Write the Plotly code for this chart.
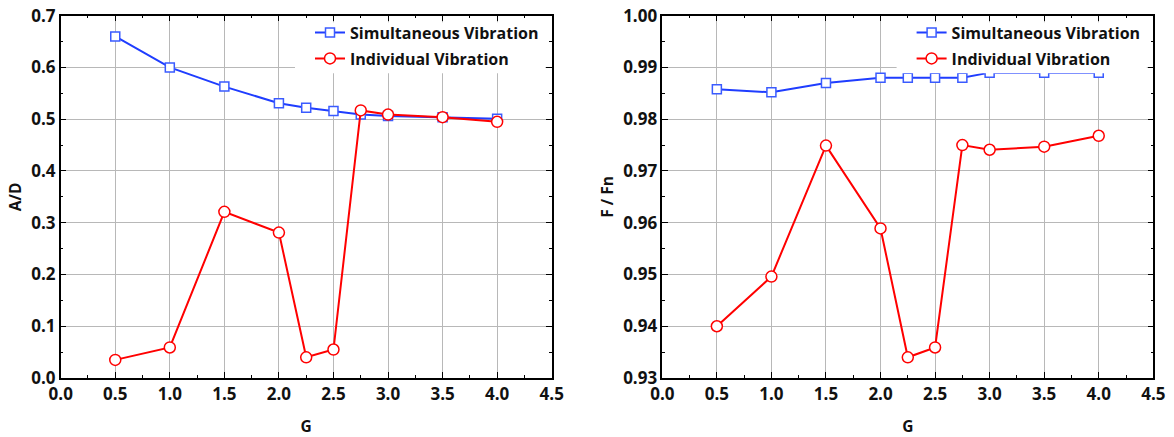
import plotly.graph_objects as go

G = [0.5, 1.0, 1.5, 2.0, 2.25, 2.5, 2.75, 3.0, 3.5, 4.0]
ad_simultaneous = [0.660, 0.600, 0.563, 0.531, 0.522, 0.516, 0.509, 0.506, 0.504, 0.501]
ad_individual = [0.035, 0.059, 0.321, 0.281, 0.040, 0.055, 0.517, 0.509, 0.504, 0.495]
ffn_simultaneous = [0.9858, 0.9852, 0.9870, 0.9880, 0.9880, 0.9880, 0.9880, 0.9890, 0.9890, 0.9890]
ffn_individual = [0.9400, 0.9496, 0.9749, 0.9589, 0.9340, 0.9359, 0.9750, 0.9741, 0.9747, 0.9768]
names = ["Simultaneous Vibration", "Individual Vibration"]

BLUE = "#1F3DFF"
BLUE_M = "#3A5BFF"
RED = "#FF0000"
FONT = "Open Sans"
TXT = "#111111"

fig = go.Figure()

def add_pair(xa, ya, leg, s_vals, i_vals):
    fig.add_trace(go.Scatter(
        x=G, y=s_vals, name=names[0], mode="lines+markers", xaxis=xa, yaxis=ya,
        legend=leg, legendgroup="s" + leg,
        line=dict(color=BLUE, width=2),
        marker=dict(symbol="square", size=9, color="white", line=dict(color=BLUE_M, width=1.5)),
        cliponaxis=False))
    fig.add_trace(go.Scatter(
        x=G, y=i_vals, name=names[1], mode="lines+markers", xaxis=xa, yaxis=ya,
        legend=leg, legendgroup="i" + leg,
        line=dict(color=RED, width=2),
        marker=dict(symbol="circle", size=11, color="white", line=dict(color=RED, width=1.5)),
        cliponaxis=False))

add_pair("x", "y", "legend", ad_simultaneous, ad_individual)
add_pair("x2", "y2", "legend2", ffn_simultaneous, ffn_individual)

tickfont = dict(family=FONT, size=17, color=TXT, weight="bold")
titlefont = dict(family=FONT, size=15.5, color=TXT, weight="bold")

def xaxis_cfg(domain, anchor):
    return dict(
        domain=domain, anchor=anchor, range=[0, 4.5], dtick=0.5, tick0=0, tickformat=".1f",
        showline=True, linecolor="#000000", linewidth=1.5, mirror="ticks",
        ticks="inside", ticklen=6, tickwidth=1.2, tickcolor="#000000",
        minor=dict(ticks="inside", ticklen=3, dtick=0.25, tickcolor="#000000", showgrid=False),
        showgrid=True, gridcolor="#B8B8B8", gridwidth=1, zeroline=False,
        tickfont=tickfont, title=dict(text="G", font=titlefont, standoff=18),
        automargin=False)

def yaxis_cfg(domain, anchor, rng, dtick, fmt, minor, title):
    return dict(
        domain=domain, anchor=anchor, range=rng, dtick=dtick, tick0=rng[0], tickformat=fmt,
        showline=True, linecolor="#000000", linewidth=1.5, mirror="ticks",
        ticks="inside", ticklen=6, tickwidth=1.2, tickcolor="#000000",
        minor=dict(ticks="inside", ticklen=3, dtick=minor, tickcolor="#000000", showgrid=False),
        showgrid=True, gridcolor="#B8B8B8", gridwidth=1, zeroline=False,
        tickfont=tickfont, title=dict(text=title, font=titlefont, standoff=6),
        automargin=False)

W, H = 1174, 437
top_px, bot_px = 15.7, 378.0
top = 1 - top_px / H
bot = 1 - bot_px / H
left_px = [60.7, 662.3]
right_px = [551.7, 1153.3]
d1 = [left_px[0] / W, right_px[0] / W]
d2 = [left_px[1] / W, right_px[1] / W]

legfont = dict(family=FONT, size=16, color=TXT, weight="bold")

# white boxes behind the legends (cover grid and data like the original)
shapes = []
for lp, rp in zip(left_px, right_px):
    shapes.append(dict(type="rect", xref="paper", yref="paper", layer="above",
                       x0=(lp + 234.3) / W, x1=(rp - 6.5) / W,
                       y0=1 - 73.3 / H, y1=1 - (top_px + 6.5) / H,
                       fillcolor="white", line=dict(width=0)))

fig.update_layout(
    width=W, height=H,
    margin=dict(l=0, r=0, t=0, b=0),
    paper_bgcolor="white", plot_bgcolor="white",
    xaxis=xaxis_cfg(d1, "y"),
    yaxis=yaxis_cfg([bot, top], "x", [0, 0.7], 0.1, ".1f", 0.05, "A/D"),
    xaxis2=xaxis_cfg(d2, "y2"),
    yaxis2=yaxis_cfg([bot, top], "x2", [0.93, 1.0], 0.01, ".2f", 0.005, "F / Fn"),
    shapes=shapes,
    legend=dict(x=(left_px[0] + 249.3) / W, y=top, xanchor="left", yanchor="top",
                bgcolor="rgba(0,0,0,0)", font=legfont, traceorder="grouped",
                tracegroupgap=2, borderwidth=0),
    legend2=dict(x=(left_px[1] + 249.3) / W, y=top, xanchor="left", yanchor="top",
                 bgcolor="rgba(0,0,0,0)", font=legfont, traceorder="grouped",
                 tracegroupgap=2, borderwidth=0),
)

fig.write_html("out.html")
